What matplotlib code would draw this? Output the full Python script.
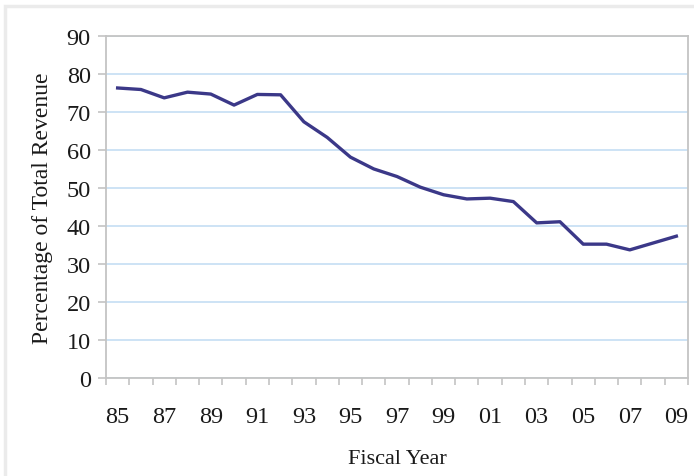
import matplotlib.pyplot as plt
from matplotlib.patches import Rectangle
import numpy as np

plt.rcParams['font.family'] = ['Liberation Serif', 'DejaVu Serif']

years = ["85", "86", "87", "88", "89", "90", "91", "92", "93", "94", "95", "96",
         "97", "98", "99", "00", "01", "02", "03", "04", "05", "06", "07", "08", "09"]
share = [76.4, 76.0, 73.8, 75.3, 74.8, 71.9, 74.7, 74.6, 67.5, 63.4, 58.2, 55.1,
         53.1, 50.3, 48.3, 47.2, 47.4, 46.5, 40.9, 41.2, 35.3, 35.3, 33.8, 35.6, 37.4]
tick_years = years[::2]

line_color = "#3b3888"
grid_color = "#c9e0f4"
spine_color = "#c4c4c4"
text_color = "#1a1a1a"

fig = plt.figure(figsize=(6.94, 4.77), dpi=100)
fig.patch.set_facecolor("white")

# faint screenshot frame
frame = Rectangle((5 / 694, -0.05), 1.1, 1 - 7 / 477 + 0.05, transform=fig.transFigure,
                  facecolor="none", edgecolor="#ebebeb", linewidth=2.5, zorder=-5)
fig.patches.append(frame)

ax = fig.add_axes([106 / 694, 1 - 379.3 / 477, (688 - 106) / 694, (379.3 - 37.3) / 477])

x = np.arange(len(years)) + 0.5
ax.plot(x, share, color=line_color, linewidth=2.4, solid_joinstyle="round")

ax.set_xlim(0, len(years))
ax.set_ylim(0, 90)
ax.set_yticks(range(0, 91, 10))
ax.set_xticks(np.arange(len(years) + 1), minor=True)
ax.set_xticks(x[::2])
ax.set_xticklabels(tick_years)

ax.yaxis.grid(True, color=grid_color, linewidth=1.3)
ax.set_axisbelow(True)

for s in ax.spines.values():
    s.set_color(spine_color)
    s.set_linewidth(1.3)

ax.tick_params(axis="x", which="major", length=0, pad=20, labelsize=17.5)
ax.tick_params(axis="x", which="minor", length=5, color=spine_color, width=1.2)
ax.tick_params(axis="y", length=6, color=spine_color, width=1.2, pad=5, labelsize=17.5)
for lab in ax.get_xticklabels() + ax.get_yticklabels():
    lab.set_color(text_color)

ax.set_xlabel("Fiscal Year", fontsize=16, color=text_color, labelpad=16)
ax.set_ylabel("Percentage of Total Revenue", fontsize=17, color=text_color, labelpad=10)

fig.savefig("out.png", dpi=100)
